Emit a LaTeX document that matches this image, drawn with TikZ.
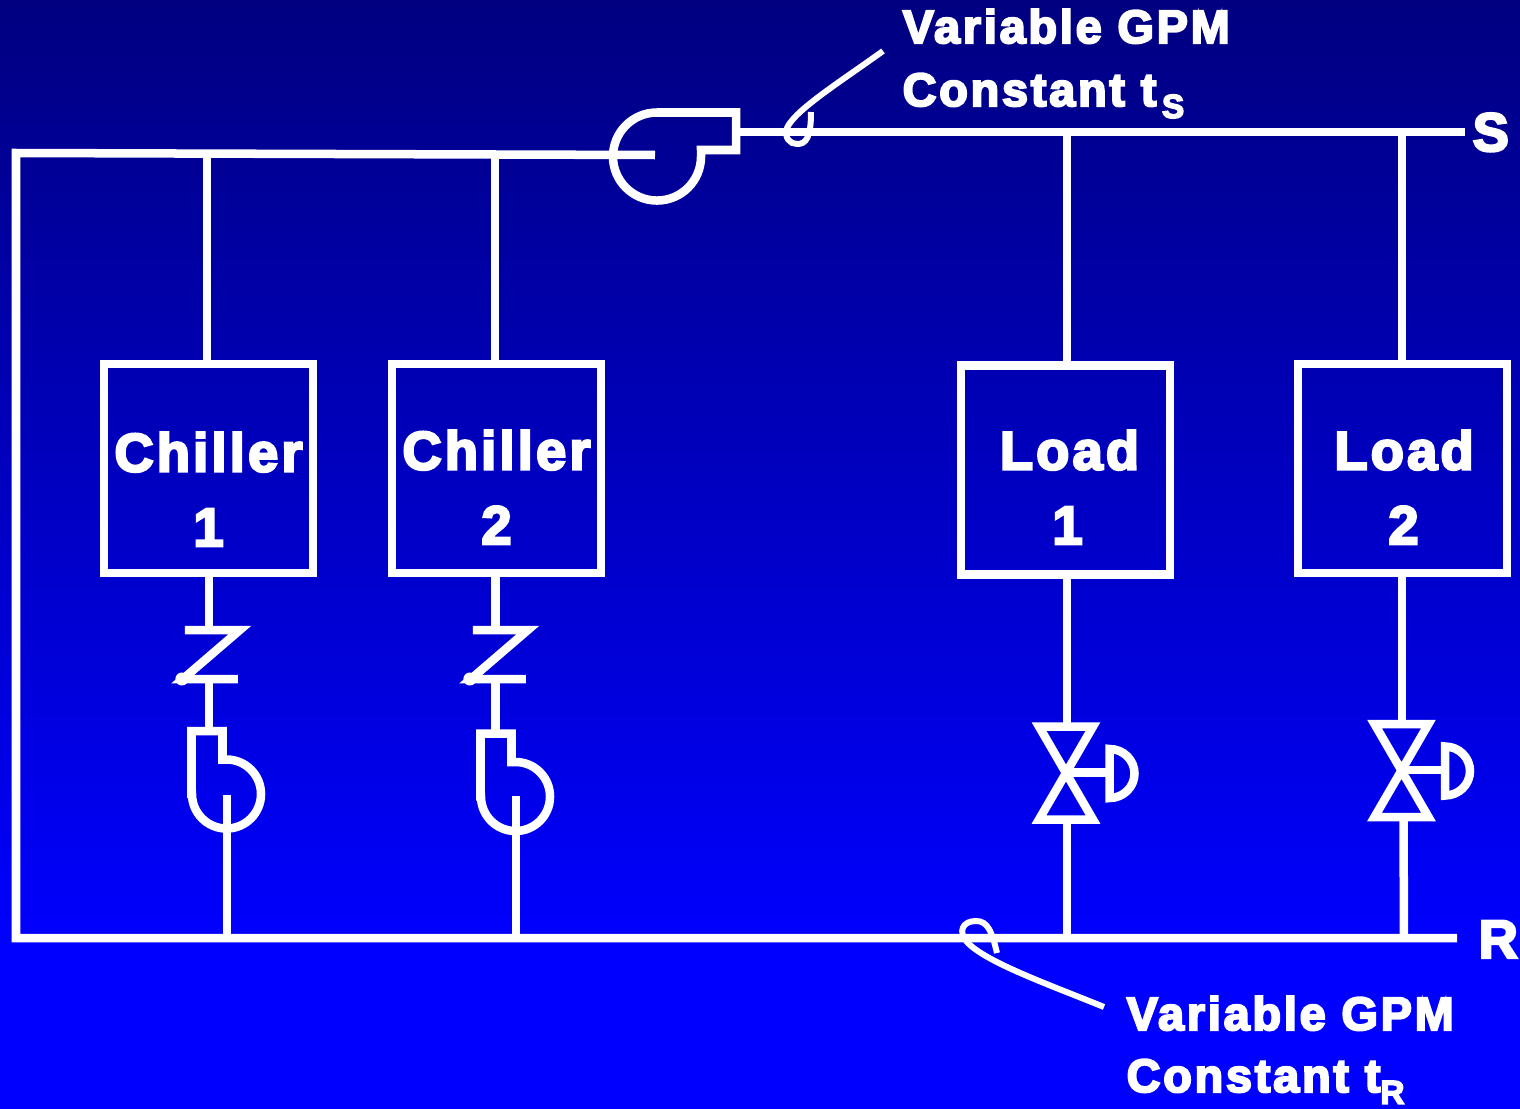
\documentclass[tikz,border=0pt]{standalone}
\usepackage{fontspec}
\newfontfamily\labelfont[FakeBold=4.5,LetterSpace=6]{Liberation Sans Bold}
\definecolor{topblue}{RGB}{0,0,128}
\definecolor{lowblue}{RGB}{0,0,255}

\tikzset{pipe/.style={draw=white,line width=0.085cm,miter limit=10},
	leader/.style={draw=white,line width=0.06cm},
	unitbox/.style={pipe,rectangle,outer sep=0pt,inner sep=0pt,minimum width=2.09cm,minimum height=2.09cm,text=white,align=center,font=\labelfont\fontsize{15.4}{21.2}\selectfont},
	caption/.style={anchor=base west,inner sep=0pt,text=white,font=\labelfont\fontsize{13.3}{16}\selectfont},
	endmark/.style={anchor=base west,inner sep=0pt,text=white,font=\labelfont\fontsize{15.4}{18}\selectfont}}

\begin{document}
\begin{tikzpicture}[x=0.01cm,y=-0.01cm]
		% check valve: #1 is the x of its bars
		\newcommand{\checkValve}[1]{
			\begin{scope}[xshift=#1*0.01cm-2.09cm]
			\draw[pipe] (185,630) -- (240,630) -- (183,679) -- (238,679);
			\fill[white] (182,679) circle (0.065cm);
			\end{scope}}
		% chiller pump outline, shifted from the first one
		\newcommand{\chillerPump}[2]{
			\begin{scope}[xshift=#1*0.01cm,yshift=-#2*0.01cm]
			\draw[pipe] (191.5,794) -- (191.5,731) -- (222.5,731) -- (222.5,759.5) -- (226.5,759.5) arc[start angle=90,end angle=-180,radius=0.345cm] -- cycle;
			\end{scope}}
		% control valve, shifted from the first one
		\newcommand{\controlValve}[2]{
			\begin{scope}[xshift=#1*0.01cm,yshift=-#2*0.01cm]
			\draw[pipe] (1039,726.5) -- (1093,726.5) -- (1039,819.5) -- (1093,819.5) -- cycle;
			\draw[pipe] (1066,772.5) -- (1109.5,772.5);
			\draw[pipe] (1109.5,749) arc[start angle=90,end angle=-90,x radius=0.25cm,y radius=0.245cm] -- cycle;
			\end{scope}}
		
		\shade[top color=topblue,bottom color=lowblue] (0,0) rectangle (1520,950);	% background
		\fill[lowblue] (0,950) rectangle (1520,1109);
		\useasboundingbox (0,0) rectangle (1520,1109);
		
		% chillers and loads
		\node[unitbox,text height=1.55cm] (chillerA) at (208.5,468.5) {Chiller\\1};
		\node[unitbox,text height=1.51cm] (chillerB) at (496.5,468.5) {Chiller\\2};
		\node[unitbox,text height=1.48cm] (loadA) at (1065.5,470) {\hspace*{0.08cm}Load\\\hspace*{0.04cm}1};
		\node[unitbox,text height=1.51cm] (loadB) at (1402.5,468.5) {\hspace*{0.03cm}Load\\\hspace*{0.02cm}2};
		
		% pipe corners and tees
		\coordinate (cornerTop) at (16,153);
		\coordinate (cornerLow) at (16,938);
		\coordinate (pumpEye) at (655,155);
		\coordinate (teeA) at (207,154);
		\coordinate (teeB) at (495,155);
		\coordinate (supplyStart) at (736,132);
		\coordinate (supplyEnd) at (1465,132);
		\coordinate (returnEnd) at (1457,938);
		\coordinate (teeC) at (1067,132);
		\coordinate (teeD) at (1402,132);
		\coordinate (teeE) at (227,938);
		\coordinate (teeF) at (516,938);
		\coordinate (teeG) at (1067,938);
		\coordinate (teeH) at (1404,938);
		
		% main lines
		\draw[pipe] (pumpEye) -- (cornerTop) -- (cornerLow) -- (returnEnd);
		\draw[pipe] (supplyStart) -- (supplyEnd);
		
		% risers
		\draw[pipe] (teeA) -- (teeA |- chillerA.north);
		\draw[pipe] (teeB) -- (teeB |- chillerB.north);
		\draw[pipe] (teeC) -- (teeC |- loadA.north);
		\draw[pipe] (teeD) -- (teeD |- loadB.north);
		
		% chiller legs
		\coordinate (checkTopA) at (209,630);
		\coordinate (checkTopB) at (495.5,630);
		\coordinate (checkLowA) at (209,679);
		\coordinate (checkLowB) at (495.5,679);
		\coordinate (pumpTopA) at (209,731);
		\coordinate (pumpTopB) at (495.5,733);
		\draw[pipe] (chillerA.south -| checkTopA) -- (checkTopA);
		\draw[pipe] (chillerB.south -| checkTopB) -- (checkTopB);
		\draw[pipe] (checkLowA) -- (pumpTopA);
		\draw[pipe] (checkLowB) -- (pumpTopB);
		\draw[pipe] (teeE) -- (227,795);
		\draw[pipe] (teeF) -- (516,796);
		
		% load legs
		\coordinate (valveTopA) at (1067,726);
		\coordinate (valveTopB) at (1402,724);
		\coordinate (valveLowA) at (1067,820);
		\coordinate (valveLowB) at (1403.5,818);
		\draw[pipe] (loadA.south -| valveTopA) -- (valveTopA);
		\draw[pipe] (loadB.south -| valveTopB) -- (valveTopB);
		\draw[pipe] (valveLowA) -- (teeG);
		\draw[pipe] (valveLowB) -- (teeH);
		
		% main pump
		\draw[pipe] (701,150) -- (736,150) -- (736,112.5) -- (657,112.5) arc[start angle=90,end angle=360,radius=0.44cm] -- cycle;
		
		% valves and pumps
		\checkValve{209}
		\checkValve{497}
		\chillerPump{0}{0}
		\chillerPump{289}{2.5}
		\controlValve{0}{0}
		\controlValve{335.5}{-2.5}
		
		% sensor leaders
		\coordinate (leaderS) at (883,51);
		\coordinate (leaderR) at (1104,1007);
		\draw[leader] (leaderS) .. controls (840,82) and (795,110) .. (787,128) .. controls (784,138) and (790,144) .. (797,144) .. controls (806,144) and (811,138) .. (811,112);
		\draw[leader] (leaderR) .. controls (1050,985) and (985,962) .. (967,942) .. controls (958,932) and (962,921) .. (976,921) .. controls (988,921) and (992,932) .. (997,953);
		
		% texts
		\node[caption] (varS) at (902,43) {Variable GPM};
		\node[caption] (conS) at (902,106) {Constant t\raisebox{-3.4pt}{\fontsize{9.5}{12}\selectfont\,S}};
		\node[caption] (varR) at (1126,1030) {Variable GPM};
		\node[caption] (conR) at (1126,1092) {Constant t\raisebox{-3.4pt}{\fontsize{9.5}{12}\selectfont R}};
		\node[endmark] (markS) at (1472,151) {S};
		\node[endmark] (markR) at (1478,958) {R};
\end{tikzpicture}
\end{document}
